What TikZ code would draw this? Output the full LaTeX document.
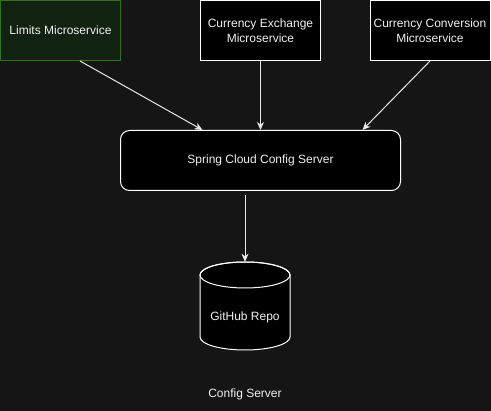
\documentclass[tikz,border=0pt]{standalone}
\usepackage{fontspec}
\setmainfont{Liberation Sans}
\usetikzlibrary{arrows.meta}
\definecolor{bgc}{RGB}{21,21,21}
\definecolor{greenfill}{RGB}{18,34,16}
\definecolor{greenline}{RGB}{50,112,28}
\definecolor{linec}{RGB}{232,232,232}
\definecolor{txt}{RGB}{240,240,240}
\tikzset{
  box/.style={draw=white, fill=black, line width=1pt, minimum width=120pt, minimum height=60pt, inner sep=0pt, align=center, text=txt, font=\fontsize{12}{14.5}\selectfont},
  greenbox/.style={box, draw=greenline, fill=greenfill},
  serverbox/.style={box, rounded corners=9pt, minimum width=280pt},
  conn/.style={draw=linec, line width=1pt, -{Stealth[length=8pt,width=7pt,inset=2.5pt]}},
  lbl/.style={text=txt, font=\fontsize{12}{14.5}\selectfont, inner sep=0pt}
}
\begin{document}
\begin{tikzpicture}[x=1pt,y=-1pt]
\fill[bgc] (0,0) rectangle (491,411);
\useasboundingbox (0,0) rectangle (491,411);
\node[greenbox] (lim) at (60.5,30.5) {Limits Microservice};
\node[box] (ex) at (260.5,30.5) {Currency Exchange\\Microservice};
\node[box] (conv) at (430,30.5) {Currency Conversion\\Microservice};
\node[serverbox] (cfg) at (260.5,160.5) {Spring Cloud Config Server};
% cylinder
\node[minimum width=90pt, minimum height=88pt, inner sep=0pt] (repo) at (245,306) {};
\filldraw[draw=white, fill=black, line width=1pt]
  (200,275) -- (200,337) arc[start angle=180, end angle=0, x radius=45, y radius=13] -- (290,275)
  arc[start angle=0, end angle=-180, x radius=45, y radius=13] -- cycle;
\draw[white, line width=1pt] (245,275) ellipse[x radius=45, y radius=13];
\node[lbl] (repotext) at (245,317) {GitHub Repo};
\node[lbl] (title) at (245,394) {Config Server};
% connectors
\draw[conn] ([xshift=19.5pt]lim.south) -- ([xshift=-58pt]cfg.north);
\draw[conn] (ex.south) -- (ex.south |- cfg.north);
\draw[conn] (conv.south) -- ([xshift=102pt]cfg.north);
\draw[conn, shorten <=4pt] ([xshift=-15.5pt]cfg.south) -- (repo.north);
\end{tikzpicture}
\end{document}
